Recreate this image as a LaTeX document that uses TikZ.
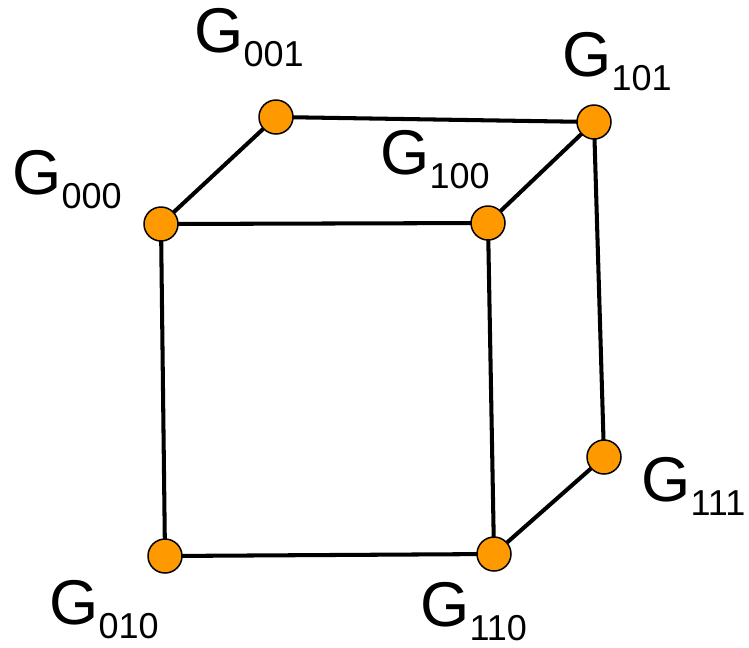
\documentclass[tikz,border=0pt]{standalone}
\usepackage{fontspec}
\setmainfont{Liberation Sans}
\definecolor{vtxorange}{RGB}{255,153,0}

\newcommand{\gname}[1]{G\raisebox{-8.5pt}{\fontsize{20.5}{22}\selectfont #1}}

\begin{document}
\begin{tikzpicture}[
  x=0.02cm, y=-0.02cm,
  vtx/.style={circle, draw=black, fill=vtxorange, line width=0.85pt,
              minimum size=0.68cm, inner sep=0pt},
  edge/.style={black, line width=2.3pt},
  lbl/.style={anchor=base west, inner sep=0pt, font=\fontsize{36}{40}\selectfont},
]
\useasboundingbox (0,0) rectangle (749,647);

% Edges first, vertices on top
\coordinate (c000) at (161,224);
\coordinate (c001) at (276,117);
\coordinate (c101) at (594,122);
\coordinate (c100) at (488,223);
\coordinate (c111) at (604,457);
\coordinate (c110) at (494,554);
\coordinate (c010) at (165,556);

\draw[edge] (c000)--(c001)--(c101)--(c100)--cycle;
\draw[edge] (c000)--(c010)--(c110)--(c100);
\draw[edge] (c101)--(c111)--(c110);

\node[vtx] (v000) at (c000) {};
\node[vtx] (v001) at (c001) {};
\node[vtx] (v101) at (c101) {};
\node[vtx] (v100) at (c100) {};
\node[vtx] (v111) at (c111) {};
\node[vtx] (v110) at (c110) {};
\node[vtx] (v010) at (c010) {};

% Vertex labels
\node[lbl] (l001) at (194,52)  {\gname{001}};
\node[lbl] (l000) at (12,194)  {\gname{000}};
\node[lbl] (l100) at (380,174) {\gname{100}};
\node[lbl] (l101) at (562,76)  {\gname{101}};
\node[lbl] (l111) at (641,501) {\gname{111}};
\node[lbl] (l010) at (49,624)  {\gname{010}};
\node[lbl] (l110) at (420,626) {\gname{110}};

\end{tikzpicture}
\end{document}
